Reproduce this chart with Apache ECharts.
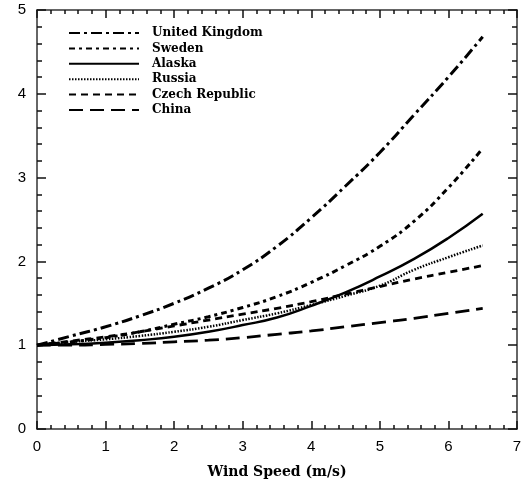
<!DOCTYPE html>
<html>
<head>
<meta charset="utf-8">
<script src="https://cdn.jsdelivr.net/npm/echarts@6/dist/echarts.min.js"></script>
<style>
  html, body { margin: 0; padding: 0; background: #fff; }
  #chart { width: 521px; height: 481px; }
</style>
</head>
<body>
<div id="chart"></div>
<script>
// wind speed (m/s) sample points
var windSpeed = [0, 0.5, 1, 1.5, 2, 2.5, 3, 3.5, 4, 4.5, 5, 5.5, 6, 6.5];

// relative values
var unitedKingdom = [1.00, 1.11, 1.22, 1.35, 1.50, 1.68, 1.90, 2.18, 2.52, 2.90, 3.30, 3.75, 4.20, 4.68];
var sweden        = [1.00, 1.04, 1.09, 1.16, 1.25, 1.34, 1.45, 1.58, 1.75, 1.95, 2.18, 2.48, 2.88, 3.35];
var alaska        = [1.00, 1.01, 1.03, 1.06, 1.10, 1.16, 1.24, 1.33, 1.47, 1.63, 1.82, 2.03, 2.28, 2.57];
var russia        = [1.00, 1.04, 1.07, 1.11, 1.16, 1.22, 1.30, 1.38, 1.48, 1.59, 1.71, 1.90, 2.05, 2.19];
var czechRepublic = [1.00, 1.05, 1.10, 1.16, 1.23, 1.30, 1.37, 1.44, 1.52, 1.61, 1.70, 1.79, 1.87, 1.95];
var china         = [1.00, 1.00, 1.01, 1.02, 1.04, 1.06, 1.09, 1.13, 1.17, 1.22, 1.27, 1.32, 1.38, 1.44];

var seriesNames = ['United Kingdom', 'Sweden', 'Alaska', 'Russia', 'Czech Republic', 'China'];
var seriesData = [unitedKingdom, sweden, alaska, russia, czechRepublic, china];
var dashTypes = [[11, 4, 3, 4], [6, 4, 3, 4], 'solid', [1.5, 1.5], [7, 5], [14, 7]];
var lineWidths = [3, 3, 2.5, 2.5, 2.8, 2.8];

var xMax = 7, yMax = 5;

function pairs(ys) {
  var out = [];
  for (var i = 0; i < windSpeed.length; i++) out.push([windSpeed[i], ys[i]]);
  return out;
}

var numFont = { fontFamily: 'Liberation Sans', fontSize: 15, color: '#000' };
var serif = 'DejaVu Serif';

var series = [];
for (var k = 0; k < seriesNames.length; k++) {
  series.push({
    name: seriesNames[k],
    type: 'line',
    smooth: true,
    symbol: 'none',
    data: pairs(seriesData[k]),
    lineStyle: { color: '#000', width: lineWidths[k], type: dashTypes[k] },
    itemStyle: { color: '#000' }
  });
}

var tickStyle = { color: '#111', width: 1.5 };
function axisOpt(extra, majorLen, minorLen) {
  return Object.assign({
    type: 'value', min: 0, interval: 1,
    axisLine: { show: true, onZero: false, lineStyle: { color: '#333', width: 1.5 } },
    axisTick: { show: true, inside: true, length: majorLen, lineStyle: tickStyle },
    minorTick: { show: true, splitNumber: 5, length: minorLen, lineStyle: tickStyle },
    splitLine: { show: true, lineStyle: { color: 'rgba(0,0,0,0)', width: 0 } },
    minorSplitLine: { show: false }
  }, extra);
}

var chart = echarts.init(document.getElementById('chart'), null, { renderer: 'canvas' });
chart.setOption({
  animation: false,
  grid: { left: 37, right: 4, top: 10, bottom: 52, outerBoundsMode: 'none' },
  legend: {
    orient: 'vertical',
    left: 68,
    top: 27,
    padding: 0,
    itemWidth: 70,
    itemHeight: 12,
    itemGap: 3.4,
    itemStyle: { opacity: 0 },
    textStyle: { fontFamily: serif, fontWeight: 'bold', fontSize: 12, color: '#000', padding: [0, 0, 0, 8] },
    data: seriesNames
  },
  xAxis: [
    axisOpt({
      max: xMax,
      name: 'Wind Speed (m/s)', nameLocation: 'middle', nameGap: 36,
      nameTextStyle: { fontFamily: serif, fontWeight: 'bold', fontSize: 14, color: '#000' },
      axisLabel: Object.assign({ show: true, margin: 10 }, numFont)
    }, 8, 4),
    axisOpt({ max: xMax, position: 'top', axisLabel: { show: false } }, 8, 4)
  ],
  yAxis: [
    axisOpt({ max: yMax, axisLabel: Object.assign({ show: true, margin: 11 }, numFont) }, 9, 5),
    axisOpt({ max: yMax, position: 'right', axisLabel: { show: false } }, 9, 5)
  ],
  series: series
});
</script>
</body>
</html>
